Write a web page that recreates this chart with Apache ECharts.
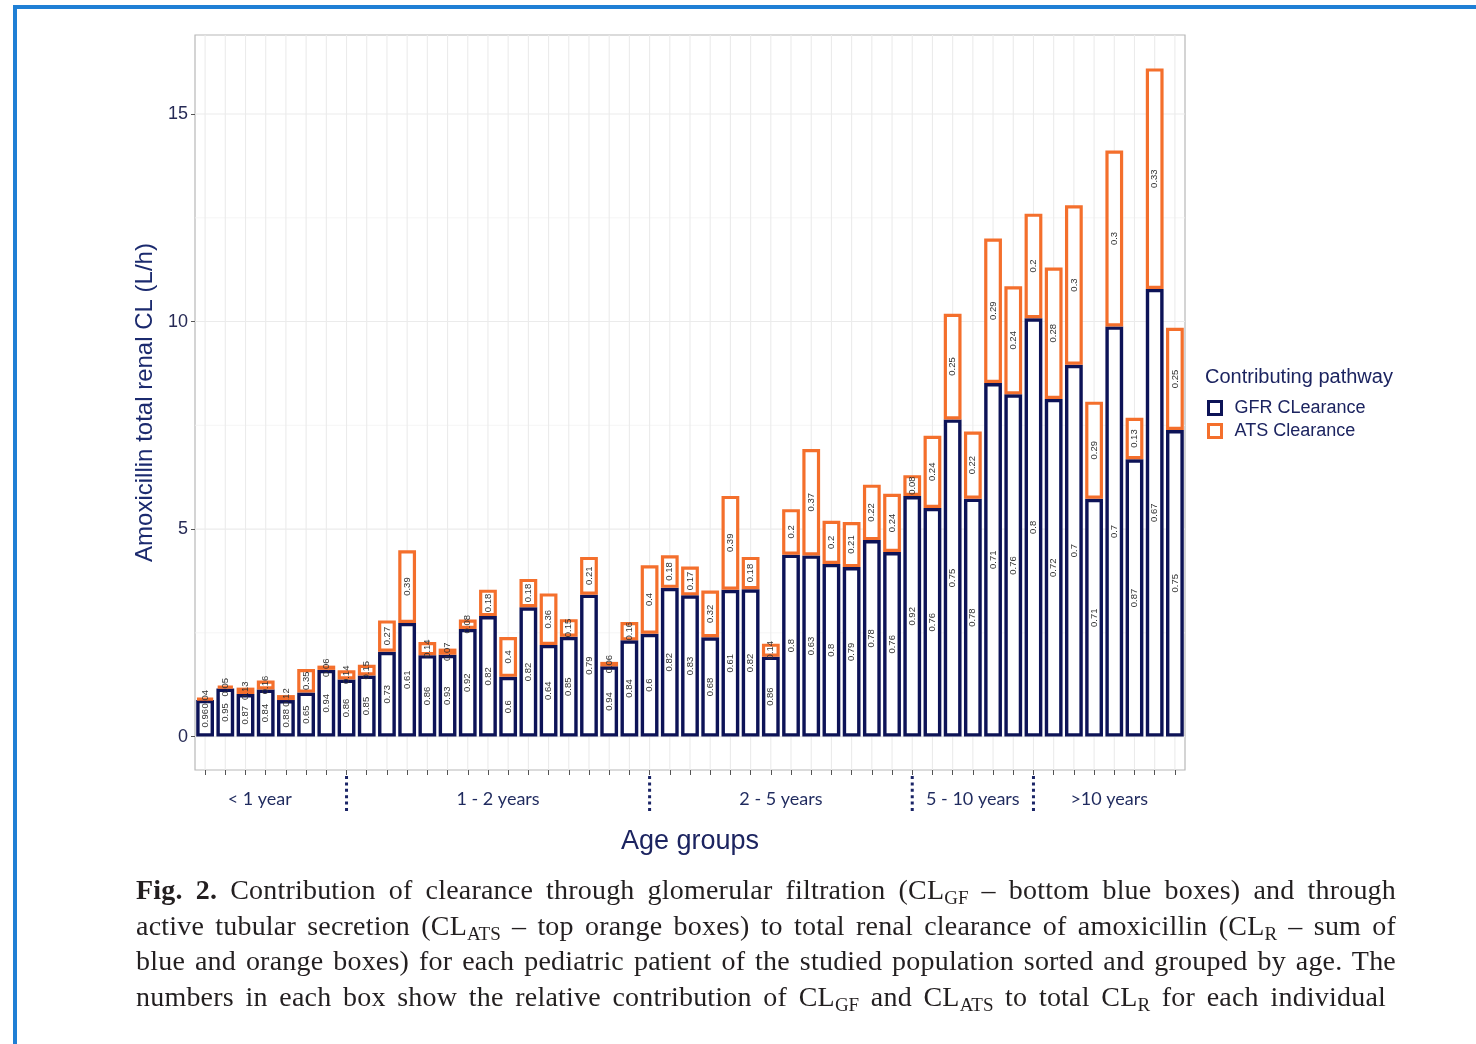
<!DOCTYPE html>
<html>
<head>
<meta charset="utf-8">
<title>Amoxicillin renal clearance by pathway</title>
<script src="https://cdn.jsdelivr.net/npm/echarts@6/dist/echarts.min.js"></script>
<style>
  html, body { margin: 0; padding: 0; background: #fff; }
  #wrap { position: relative; width: 1476px; height: 1044px; overflow: hidden; background: #fff; }
  #frame { position: absolute; left: 13px; top: 5px; right: -10px; bottom: -10px;
           border-top: 4px solid #1f7fd5; border-left: 4px solid #1f7fd5; }
  #chart { position: absolute; left: 0; top: 0; width: 1476px; height: 1044px; }
  #caption { position: absolute; left: 136px; top: 872px; width: 1300px;
             font-family: 'Liberation Serif', 'Times New Roman', serif; font-size: 28px;
             letter-spacing: 0.2px; line-height: 35.5px; color: #231f20; }
  #caption .ln { white-space: nowrap; }
  #caption sub { font-size: 19px; line-height: 0; vertical-align: -5px; letter-spacing: 0; }
</style>
</head>
<body>
<div id="wrap">
  <div id="frame"></div>
  <div id="chart"></div>
  <div id="caption">
    <div class="ln" data-w="1260"><span><b>Fig. 2.</b> Contribution of clearance through glomerular filtration (CL<sub>GF</sub> – bottom blue boxes) and through</span></div>
    <div class="ln" data-w="1260"><span>active tubular secretion (CL<sub>ATS</sub> – top orange boxes) to total renal clearance of amoxicillin (CL<sub>R</sub> – sum of</span></div>
    <div class="ln" data-w="1260"><span>blue and orange boxes) for each pediatric patient of the studied population sorted and grouped by age. The</span></div>
    <div class="ln" data-w="1250"><span>numbers in each box show the relative contribution of CL<sub>GF</sub> and CL<sub>ATS</sub> to total CL<sub>R</sub> for each individual</span></div>
  </div>
</div>
<script>
// Total renal clearance (L/h) per patient, sorted by age
const totalCL = [0.92, 1.22, 1.18, 1.35, 1.0, 1.63, 1.71, 1.6, 1.73, 2.8,
                 4.49, 2.28, 2.12, 2.82, 3.54, 2.4, 3.8, 3.45, 2.83, 4.33,
                 1.8, 2.76, 4.13, 4.37, 4.1, 3.52, 5.8, 4.33, 2.24, 5.48,
                 6.93, 5.2, 5.17, 6.07, 5.85, 6.3, 7.25, 10.19, 7.35, 12.0,
                 10.85, 12.6, 11.3, 12.8, 8.07, 14.12, 7.68, 16.1, 9.85];

// Relative contribution of glomerular filtration to the total
const gfrShare = [0.96, 0.95, 0.87, 0.84, 0.88, 0.65, 0.94, 0.86, 0.85, 0.73,
                  0.61, 0.86, 0.93, 0.92, 0.82, 0.6, 0.82, 0.64, 0.85, 0.79,
                  0.94, 0.84, 0.6, 0.82, 0.83, 0.68, 0.61, 0.82, 0.86, 0.8,
                  0.63, 0.8, 0.79, 0.78, 0.76, 0.92, 0.76, 0.75, 0.78, 0.71,
                  0.76, 0.8, 0.72, 0.7, 0.71, 0.7, 0.87, 0.67, 0.75];

// Relative contribution of active tubular secretion to the total
const atsShare = [0.04, 0.05, 0.13, 0.16, 0.12, 0.35, 0.06, 0.14, 0.15, 0.27,
                  0.39, 0.14, 0.07, 0.08, 0.18, 0.4, 0.18, 0.36, 0.15, 0.21,
                  0.06, 0.16, 0.4, 0.18, 0.17, 0.32, 0.39, 0.18, 0.14, 0.2,
                  0.37, 0.2, 0.21, 0.22, 0.24, 0.08, 0.24, 0.25, 0.22, 0.29,
                  0.24, 0.2, 0.28, 0.3, 0.29, 0.3, 0.13, 0.33, 0.25];

// Age groups and the patient index where each dotted separator sits
const ageGroups = ['< 1 year', '1 - 2 years', '2 - 5 years', '5 - 10 years', '>10 years'];
const groupSeparators = [7, 22, 35, 41];

// Y axis ticks and background grid values
const yTicks = [0, 5, 10, 15];
const yGridValues = [0, 2.5, 5, 7.5, 10, 12.5, 15];

const seriesNames = ['GFR CLearance', 'ATS Clearance'];

const patients = totalCL.map((_, i) => 'Patient ' + (i + 1));
const gfrValues = totalCL.map((t, i) => +(t * gfrShare[i]).toFixed(4));
const atsValues = totalCL.map((t, i) => +(t * atsShare[i]).toFixed(4));

const NAVY = '#0d1357';
const ORANGE = '#f46f2c';
const INK = '#1c2460';
const GRID = '#ebebeb';

const GRID_BOX = { left: 195, right: 291, top: 35, bottom: 274 };

const chart = echarts.init(document.getElementById('chart'), null, { renderer: 'canvas' });

const barLabel = (shares) => ({
  show: true,
  position: 'inside',
  rotate: 90,
  fontSize: 9.5,
  color: '#333',
  fontFamily: "'Liberation Sans', Arial, sans-serif",
  formatter: (p) => String(shares[p.dataIndex])
});

const option = {
  animation: false,
  backgroundColor: 'transparent',
  textStyle: { fontFamily: "'Liberation Sans', Arial, sans-serif" },
  title: {
    text: 'Contributing pathway',
    left: 1205, top: 367,
    padding: 0,
    textStyle: { fontSize: 20, fontWeight: 'normal', color: INK }
  },
  legend: {
    left: 1207, top: 399,
    orient: 'vertical',
    itemWidth: 13, itemHeight: 13, itemGap: 5,
    padding: 0,
    selectedMode: false,
    textStyle: { fontSize: 18, color: INK, padding: [0, 0, 0, 8] },
    data: [
      { name: seriesNames[0], icon: 'rect', itemStyle: { color: '#fff', borderColor: NAVY, borderWidth: 3 } },
      { name: seriesNames[1], icon: 'rect', itemStyle: { color: '#fff', borderColor: ORANGE, borderWidth: 3 } }
    ]
  },
  grid: Object.assign({
    show: true, backgroundColor: '#fff', borderColor: '#b8b8b8', borderWidth: 1.2
  }, GRID_BOX),
  xAxis: {
    type: 'category',
    data: patients,
    axisLine: { show: false, onZero: false },
    axisTick: { show: true, alignWithLabel: true, interval: 0, length: 5, lineStyle: { color: '#555', width: 1 } },
    axisLabel: { show: false },
    splitLine: { show: false },
    name: 'Age groups',
    nameLocation: 'middle',
    nameGap: 58,
    nameTextStyle: { fontSize: 27, color: INK }
  },
  yAxis: {
    type: 'value',
    min: -0.805, max: 16.905,
    axisLine: { show: false },
    axisTick: { show: true, customValues: yTicks, length: 4, lineStyle: { color: '#555', width: 1 } },
    axisLabel: { customValues: yTicks, fontSize: 18, color: '#262a55', margin: 7 },
    splitLine: { show: false },
    name: 'Amoxicillin total renal CL (L/h)',
    nameLocation: 'middle',
    nameGap: 35,
    nameTextStyle: { fontSize: 24, color: '#1b2a6e' }
  },
  series: [
    {
      // horizontal background grid
      type: 'custom', z: 1, silent: true,
      data: yGridValues.map(v => [0, v]),
      renderItem: (params, api) => {
        const cs = params.coordSys;
        const y = api.coord([0, api.value(1)])[1];
        const minor = api.value(1) % 5 !== 0;
        return { type: 'line', shape: { x1: cs.x, x2: cs.x + cs.width, y1: y, y2: y },
                 style: { stroke: minor ? '#f2f2f2' : GRID, lineWidth: minor ? 0.8 : 1.1 } };
      }
    },
    {
      // vertical background grid at each patient
      type: 'custom', z: 1, silent: true,
      data: patients.map((_, i) => [i, 0]),
      renderItem: (params, api) => {
        const cs = params.coordSys;
        const x = api.coord([api.value(0), 0])[0];
        return { type: 'line', shape: { x1: x, x2: x, y1: cs.y, y2: cs.y + cs.height },
                 style: { stroke: GRID, lineWidth: 1.1 } };
      }
    },
    {
      name: seriesNames[0], type: 'bar', stack: 'cl', z: 3,
      data: gfrValues,
      barCategoryGap: '12%',
      itemStyle: { color: '#fff', borderColor: NAVY, borderWidth: 3.4 },
      label: barLabel(gfrShare)
    },
    {
      name: seriesNames[1], type: 'bar', stack: 'cl', z: 3,
      data: atsValues,
      barCategoryGap: '12%',
      itemStyle: { color: '#fff', borderColor: ORANGE, borderWidth: 3.2 },
      label: barLabel(atsShare)
    }
  ]
};

chart.setOption(option);

// Age group separators and labels beneath the axis
const plotLeft = GRID_BOX.left;
const plotRight = chart.getWidth() - GRID_BOX.right;
const plotBottom = chart.getHeight() - GRID_BOX.bottom;
const sepX = groupSeparators.map(i => chart.convertToPixel({ xAxisIndex: 0 }, patients[i]));
const edges = [plotLeft - 22].concat(sepX, [plotRight]);

const graphics = [];
sepX.forEach(x => {
  graphics.push({
    type: 'line', silent: true,
    shape: { x1: x, y1: plotBottom + 6, x2: x, y2: plotBottom + 44 },
    style: { stroke: '#1a2466', lineWidth: 3, lineDash: [3, 3.4] }
  });
});
ageGroups.forEach((g, k) => {
  graphics.push({
    type: 'text', silent: true,
    x: (edges[k] + edges[k + 1]) / 2, y: plotBottom + 29,
    style: { text: g, fill: '#1f2a5e', font: "18px Lato, 'Open Sans', sans-serif",
             textAlign: 'center', textVerticalAlign: 'middle' }
  });
});
chart.setOption({ graphic: graphics });

// Justify each caption line to its column width
document.querySelectorAll('#caption .ln').forEach(line => {
  const span = line.querySelector('span');
  const target = +line.dataset.w;
  span.style.wordSpacing = '0px';
  const natural = span.getBoundingClientRect().width;
  const gaps = (span.textContent.match(/ /g) || []).length;
  if (gaps > 0) span.style.wordSpacing = ((target - natural) / gaps) + 'px';
});
</script>
</body>
</html>
